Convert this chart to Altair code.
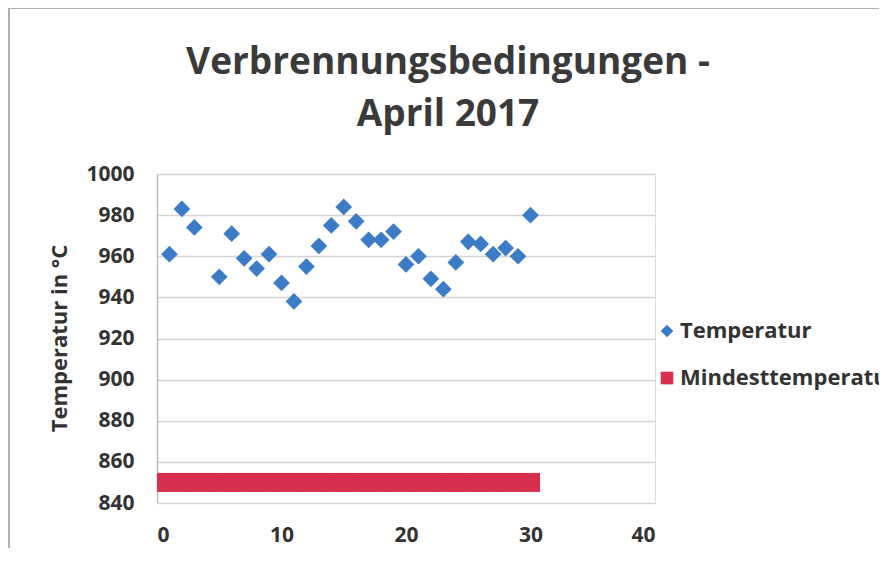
import altair as alt
import pandas as pd

# ---- data ----
days = [1, 2, 3, 5, 6, 7, 8, 9, 10, 11, 12, 13, 14, 15, 16, 17, 18, 19, 20,
        21, 22, 23, 24, 25, 26, 27, 28, 29, 30]
temps = [961, 983, 974, 950, 971, 959, 954, 961, 947, 938, 955, 965, 975, 984,
         977, 968, 968, 972, 956, 960, 949, 944, 957, 967, 966, 961, 964, 960, 980]
min_days = list(range(0, 31))
min_value = 850
series = ["Temperatur", "Mindesttemperatur"]
series_colors = ["#3c7bc6", "#d7304f"]
series_shapes = ["diamond", "square"]
x_ticks = [0, 10, 20, 30, 40]
y_ticks = [840, 860, 880, 900, 920, 940, 960, 980, 1000]

FONT = "Open Sans"
TXT = "#333333"

temp_df = pd.DataFrame({"Tag": days, "Wert": temps, "Serie": series[0]})
min_df = pd.DataFrame({"Tag": min_days, "Wert": [min_value] * len(min_days), "Serie": series[1]})

x_enc = alt.X("Tag:Q",
              scale=alt.Scale(domain=[0, 40], nice=False),
              axis=alt.Axis(values=x_ticks, title=None, grid=False, domain=False, ticks=False,
                            labelFont=FONT, labelFontWeight="bold", labelFontSize=21,
                            labelColor=TXT, labelPadding=21, format="d"))
y_enc = alt.Y("Wert:Q",
              scale=alt.Scale(domain=[840, 1000], nice=False, zero=False),
              axis=alt.Axis(values=y_ticks, title="Temperatur in °C", grid=True,
                            gridColor="#d4d4d4", gridWidth=1.5, format="d",
                            domain=True, domainColor="#bdbdbd", domainWidth=1.5, ticks=False,
                            labelFont=FONT, labelFontWeight="bold", labelFontSize=21,
                            labelColor=TXT, labelPadding=23,
                            titleFont=FONT, titleFontWeight="bold", titleFontSize=22,
                            titleColor=TXT, titleX=-98, titleY=164, titleAngle=-90,
                            titleAlign="center", titleBaseline="middle"))

legend = alt.Legend(title=None, orient="none", legendX=499, legendY=146,
                    labelFont=FONT, labelFontWeight="bold", labelFontSize=22,
                    labelColor=TXT, labelOffset=2, rowPadding=25, symbolSize=160,
                    symbolStrokeWidth=0, labelLimit=400)
color_enc = alt.Color("Serie:N", scale=alt.Scale(domain=series, range=series_colors), legend=legend)
shape_enc = alt.Shape("Serie:N", scale=alt.Scale(domain=series, range=series_shapes), legend=legend)

frame = alt.Chart(pd.DataFrame({"f": [0]})).mark_rect(
    fillOpacity=0, stroke="#b0b0b0", strokeWidth=2
).encode(x=alt.value(-148), x2=alt.value(760), y=alt.value(-166), y2=alt.value(600))

mins = alt.Chart(min_df).mark_point(filled=True, size=361, opacity=1, clip=True).encode(
    x=x_enc, y=y_enc, color=color_enc, shape=shape_enc)

pts = alt.Chart(temp_df).mark_point(filled=True, size=280, opacity=1).encode(
    x=x_enc, y=y_enc, color=color_enc, shape=shape_enc)

chart = alt.layer(frame, mins, pts).properties(
    width=498, height=329,
    autosize=alt.AutoSizeParams(type="none"),
    padding={"left": 149, "top": 166, "right": 224, "bottom": 45},
    title=alt.TitleParams(text=["Verbrennungsbedingungen -", "April 2017"],
                          font=FONT, fontWeight="bold", fontSize=37, color="#3a3a3a",
                          lineHeight=52, anchor="middle", frame="group", dx=42,
                          baseline="bottom", offset=-164),
).configure_view(strokeWidth=0).configure(background="white")

chart.save("out.html", embed_options={"renderer": "svg", "actions": False})
